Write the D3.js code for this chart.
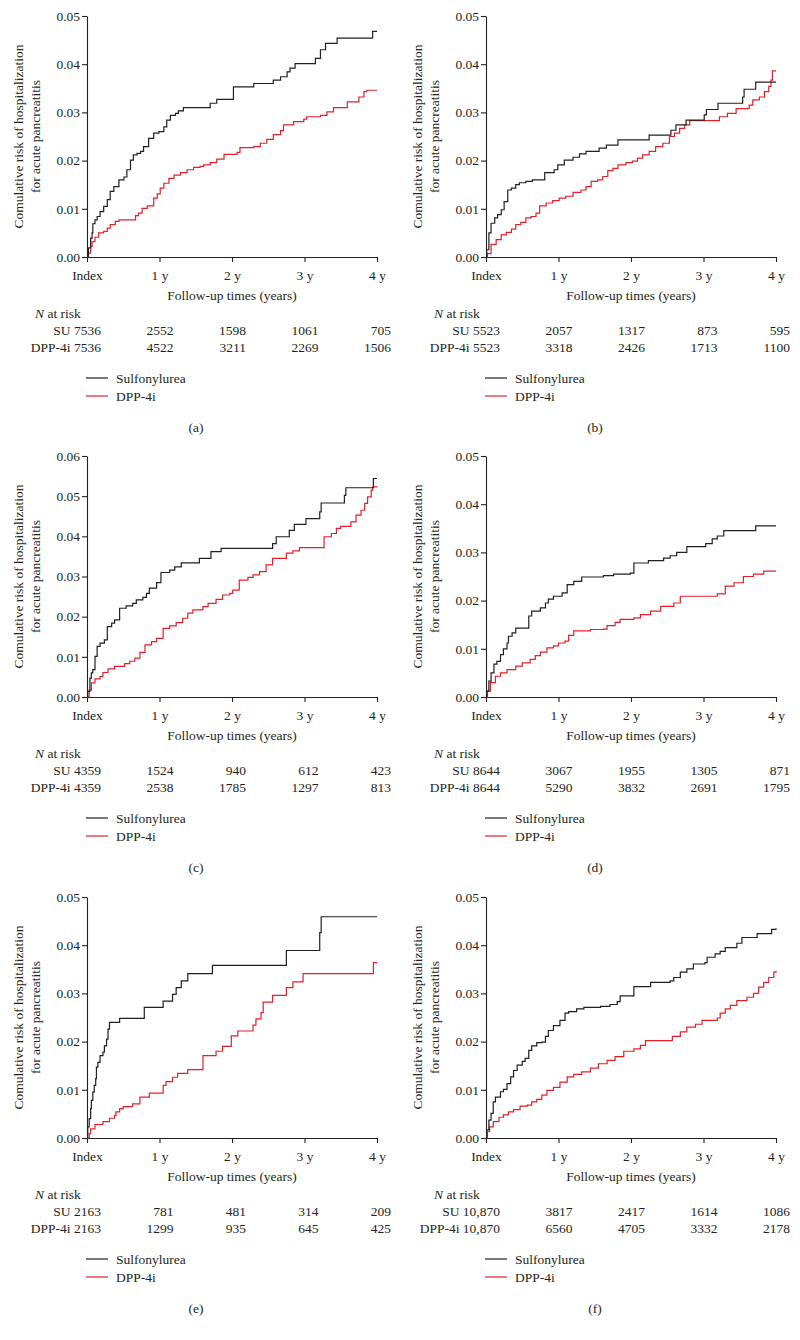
<!DOCTYPE html>
<html><head><meta charset="utf-8">
<script src="https://cdn.jsdelivr.net/npm/d3@7"></script>
<style>
body{margin:0;background:#fff;}
svg text{font-family:"Liberation Serif","Times New Roman",serif;fill:#231f20;font-size:13.5px;}
</style></head><body><svg id="c" width="800" height="1340"></svg>
<script>
// ---------- data ----------
const panelLabels = ["(a)", "(b)", "(c)", "(d)", "(e)", "(f)"];
const yMaxes = [0.05, 0.05, 0.06, 0.05, 0.05, 0.05];
const xTickLabels = ["Index", "1 y", "2 y", "3 y", "4 y"];
const xTickValues = [0, 1, 2, 3, 4];
const seriesNames = ["Sulfonylurea", "DPP-4i"];
const yTitle = ["Comulative risk of hospitalization", "for acute pancreatitis"];
const xTitle = "Follow-up times (years)";

// [years, cumulative risk]
const suA = [[0,0],[0.02,0.0019],[0.05,0.0039],[0.07,0.005],[0.08,0.0069],[0.11,0.0077],[0.14,0.0084],[0.18,0.0094],[0.23,0.0105],[0.28,0.0119],[0.32,0.0136],[0.37,0.0146],[0.44,0.016],[0.51,0.0166],[0.55,0.0181],[0.60,0.0201],[0.64,0.0212],[0.69,0.0215],[0.74,0.0219],[0.78,0.0229],[0.85,0.0246],[0.92,0.0257],[0.99,0.026],[1.06,0.027],[1.10,0.0284],[1.15,0.0294],[1.22,0.0298],[1.26,0.0303],[1.33,0.031],[1.70,0.0319],[1.79,0.0327],[2.02,0.0353],[2.30,0.036],[2.57,0.0367],[2.67,0.0374],[2.76,0.0384],[2.80,0.0392],[2.87,0.0401],[3.15,0.0412],[3.22,0.043],[3.29,0.0443],[3.45,0.0454],[3.94,0.0468],[4.0,0.0468]];
const dppA = [[0,0],[0.02,0.0008],[0.05,0.0022],[0.07,0.0032],[0.11,0.0041],[0.16,0.005],[0.23,0.0053],[0.28,0.006],[0.32,0.0067],[0.39,0.0074],[0.44,0.0077],[0.67,0.0086],[0.71,0.0091],[0.76,0.0101],[0.83,0.0106],[0.92,0.0122],[0.97,0.0131],[1.01,0.0143],[1.06,0.0153],[1.13,0.0163],[1.20,0.017],[1.29,0.0175],[1.38,0.0181],[1.47,0.0186],[1.56,0.0188],[1.61,0.0191],[1.70,0.0196],[1.79,0.0203],[1.89,0.0213],[2.07,0.0217],[2.11,0.0227],[2.30,0.0229],[2.39,0.0236],[2.48,0.0244],[2.57,0.0254],[2.67,0.0262],[2.71,0.0274],[2.85,0.0281],[2.99,0.0286],[3.03,0.0291],[3.22,0.0294],[3.31,0.0301],[3.40,0.031],[3.59,0.0322],[3.75,0.0332],[3.82,0.0343],[3.86,0.0346],[4.0,0.0346]];
const suB = [[0,0],[0.01,0.0015],[0.04,0.005],[0.07,0.007],[0.12,0.0081],[0.16,0.0088],[0.21,0.0098],[0.25,0.0115],[0.30,0.0139],[0.35,0.0143],[0.41,0.015],[0.46,0.0154],[0.55,0.0157],[0.64,0.016],[0.81,0.0175],[0.94,0.0181],[0.99,0.0191],[1.08,0.0201],[1.20,0.0207],[1.29,0.0214],[1.38,0.0219],[1.56,0.0226],[1.66,0.0232],[1.82,0.0243],[2.25,0.0253],[2.55,0.0263],[2.62,0.0274],[2.76,0.0284],[3.01,0.0295],[3.04,0.0306],[3.20,0.0319],[3.54,0.0332],[3.56,0.0348],[3.72,0.0363],[4.0,0.0363]];
const dppB = [[0,0],[0.02,0.0007],[0.07,0.0026],[0.14,0.0036],[0.21,0.0046],[0.28,0.0051],[0.35,0.0058],[0.41,0.0067],[0.48,0.0072],[0.55,0.0081],[0.62,0.0084],[0.69,0.0091],[0.74,0.0106],[0.83,0.0112],[0.92,0.0117],[1.01,0.0122],[1.10,0.0126],[1.20,0.0134],[1.31,0.0139],[1.38,0.0146],[1.45,0.0157],[1.54,0.016],[1.61,0.0167],[1.68,0.0179],[1.75,0.0184],[1.82,0.0191],[1.93,0.0196],[2.02,0.0199],[2.09,0.0205],[2.16,0.0212],[2.25,0.0219],[2.34,0.0229],[2.44,0.0236],[2.53,0.025],[2.60,0.0257],[2.67,0.0267],[2.74,0.0274],[2.81,0.0283],[3.22,0.0291],[3.33,0.0298],[3.45,0.0308],[3.63,0.0315],[3.68,0.0326],[3.77,0.0332],[3.84,0.0343],[3.90,0.0354],[3.93,0.0367],[3.95,0.0386],[4.0,0.0386]];
const suC = [[0,0],[0.01,0.0014],[0.04,0.0047],[0.06,0.006],[0.08,0.0068],[0.11,0.0101],[0.14,0.0126],[0.18,0.0134],[0.24,0.0142],[0.28,0.0175],[0.34,0.0184],[0.38,0.0192],[0.45,0.0221],[0.54,0.0227],[0.63,0.0233],[0.68,0.0242],[0.77,0.0248],[0.82,0.0258],[0.86,0.0271],[0.96,0.0285],[1.02,0.031],[1.14,0.0316],[1.21,0.0324],[1.30,0.0334],[1.55,0.0345],[1.71,0.0362],[1.85,0.037],[2.56,0.0382],[2.61,0.0399],[2.79,0.0415],[2.86,0.043],[3.02,0.0444],[3.21,0.0461],[3.23,0.0483],[3.55,0.0502],[3.57,0.0521],[3.95,0.0544],[4.0,0.0544]];
const dppC = [[0,0],[0.03,0.0017],[0.06,0.0035],[0.11,0.0045],[0.18,0.0051],[0.22,0.0061],[0.29,0.007],[0.38,0.0076],[0.52,0.0083],[0.59,0.0089],[0.66,0.0097],[0.73,0.0111],[0.80,0.013],[0.89,0.0138],[0.96,0.0146],[1.05,0.0171],[1.14,0.0177],[1.23,0.0185],[1.32,0.0196],[1.39,0.0209],[1.46,0.0217],[1.60,0.0225],[1.67,0.0233],[1.78,0.0243],[1.87,0.0254],[1.97,0.0258],[2.01,0.0266],[2.10,0.0291],[2.22,0.0298],[2.29,0.0304],[2.38,0.0312],[2.47,0.0329],[2.56,0.0345],[2.75,0.0358],[2.84,0.0364],[2.93,0.0372],[3.27,0.0399],[3.37,0.0407],[3.44,0.042],[3.50,0.0425],[3.64,0.0436],[3.71,0.0453],[3.78,0.0465],[3.83,0.0482],[3.87,0.0498],[3.92,0.0515],[3.94,0.0523],[4.0,0.0525]];
const suD = [[0,0],[0.01,0.0012],[0.04,0.0033],[0.07,0.005],[0.11,0.0068],[0.15,0.0074],[0.20,0.0088],[0.24,0.01],[0.29,0.0112],[0.31,0.0126],[0.36,0.0133],[0.41,0.0143],[0.59,0.0168],[0.63,0.0178],[0.75,0.0185],[0.82,0.0195],[0.86,0.0203],[0.93,0.0209],[1.05,0.0216],[1.12,0.0233],[1.21,0.024],[1.32,0.0249],[1.62,0.0252],[1.76,0.0255],[1.99,0.0257],[2.04,0.0278],[2.24,0.0283],[2.45,0.0288],[2.54,0.0293],[2.63,0.03],[2.77,0.0312],[3.03,0.0318],[3.12,0.0328],[3.19,0.0334],[3.28,0.0345],[3.72,0.0355],[4.0,0.0355]];
const dppD = [[0,0],[0.02,0.0012],[0.06,0.003],[0.13,0.0043],[0.20,0.005],[0.29,0.0057],[0.41,0.0064],[0.50,0.0071],[0.61,0.0078],[0.68,0.0086],[0.75,0.0093],[0.84,0.0102],[0.93,0.0106],[1.00,0.0112],[1.09,0.0116],[1.14,0.0128],[1.21,0.0137],[1.44,0.014],[1.62,0.0141],[1.67,0.0148],[1.78,0.0155],[1.85,0.0161],[2.04,0.0164],[2.13,0.0171],[2.27,0.0178],[2.41,0.0188],[2.59,0.0195],[2.68,0.0209],[3.19,0.0214],[3.30,0.023],[3.42,0.0237],[3.55,0.025],[3.69,0.0255],[3.83,0.0261],[4.0,0.0261]];
const suE = [[0,0],[0.01,0.0023],[0.03,0.004],[0.05,0.0061],[0.06,0.0078],[0.08,0.0095],[0.10,0.0109],[0.12,0.0123],[0.13,0.0147],[0.15,0.0157],[0.18,0.0171],[0.22,0.0178],[0.24,0.0191],[0.27,0.0205],[0.29,0.0226],[0.31,0.024],[0.45,0.0248],[0.79,0.0271],[1.05,0.0284],[1.18,0.0298],[1.23,0.0312],[1.30,0.0326],[1.39,0.0341],[1.73,0.0358],[2.75,0.0389],[3.21,0.0426],[3.23,0.0459],[4.0,0.0459]];
const dppE = [[0,0],[0.03,0.0009],[0.05,0.0019],[0.11,0.0028],[0.22,0.0034],[0.31,0.0041],[0.38,0.0047],[0.40,0.0054],[0.45,0.0061],[0.50,0.0065],[0.63,0.0071],[0.73,0.0085],[0.86,0.0093],[1.05,0.0109],[1.09,0.0117],[1.18,0.0126],[1.25,0.0134],[1.39,0.0142],[1.60,0.0171],[1.78,0.018],[1.87,0.019],[1.99,0.0212],[2.08,0.0222],[2.29,0.0234],[2.33,0.0247],[2.40,0.026],[2.43,0.0282],[2.56,0.0296],[2.75,0.0312],[2.84,0.0324],[2.98,0.0341],[3.95,0.0364],[4.0,0.0364]];
const suF = [[0,0],[0.01,0.0017],[0.04,0.0037],[0.07,0.0051],[0.10,0.0075],[0.13,0.0085],[0.20,0.0096],[0.24,0.0101],[0.29,0.0113],[0.34,0.0127],[0.38,0.014],[0.43,0.0151],[0.50,0.0159],[0.54,0.0165],[0.59,0.0182],[0.63,0.0191],[0.70,0.0198],[0.77,0.0199],[0.82,0.0211],[0.86,0.0223],[0.93,0.0233],[1.02,0.0244],[1.09,0.0259],[1.14,0.0262],[1.25,0.0268],[1.35,0.0271],[1.58,0.0273],[1.71,0.0277],[1.81,0.0283],[1.85,0.0295],[2.04,0.0314],[2.27,0.0323],[2.54,0.0326],[2.59,0.0333],[2.68,0.0344],[2.77,0.0351],[2.86,0.0361],[3.02,0.0364],[3.05,0.0375],[3.16,0.0382],[3.23,0.0387],[3.30,0.0395],[3.46,0.0404],[3.53,0.0416],[3.74,0.0424],[3.94,0.0433],[4.0,0.0435]];
const dppF = [[0,0],[0.02,0.0013],[0.05,0.0023],[0.10,0.0034],[0.18,0.0043],[0.24,0.0048],[0.31,0.0054],[0.38,0.0059],[0.47,0.0066],[0.57,0.0068],[0.63,0.0075],[0.70,0.008],[0.77,0.0089],[0.84,0.0099],[0.93,0.0105],[1.02,0.0116],[1.12,0.0127],[1.21,0.0132],[1.32,0.0137],[1.44,0.0145],[1.55,0.0154],[1.67,0.0161],[1.78,0.0169],[1.90,0.018],[2.04,0.0185],[2.13,0.0192],[2.20,0.0202],[2.57,0.0211],[2.68,0.022],[2.77,0.023],[2.89,0.0236],[2.98,0.0244],[3.19,0.0249],[3.23,0.0259],[3.30,0.0268],[3.37,0.0275],[3.46,0.0285],[3.60,0.0292],[3.69,0.03],[3.76,0.0313],[3.83,0.0323],[3.90,0.0333],[3.97,0.0344],[4.0,0.0347]];

const suRisk = [
  ["SU 7536", "2552", "1598", "1061", "705"],
  ["SU 5523", "2057", "1317", "873", "595"],
  ["SU 4359", "1524", "940", "612", "423"],
  ["SU 8644", "3067", "1955", "1305", "871"],
  ["SU 2163", "781", "481", "314", "209"],
  ["SU 10,870", "3817", "2417", "1614", "1086"]
];
const dppRisk = [
  ["DPP-4i 7536", "4522", "3211", "2269", "1506"],
  ["DPP-4i 5523", "3318", "2426", "1713", "1100"],
  ["DPP-4i 4359", "2538", "1785", "1297", "813"],
  ["DPP-4i 8644", "5290", "3832", "2691", "1795"],
  ["DPP-4i 2163", "1299", "935", "645", "425"],
  ["DPP-4i 10,870", "6560", "4705", "3332", "2178"]
];
const suSeries = [suA, suB, suC, suD, suE, suF];
const dppSeries = [dppA, dppB, dppC, dppD, dppE, dppF];

// ---------- layout ----------
const colX = [87, 486];
const rowY = [16, 456, 897];
const W = 290, H = 241;
const SU_COLOR = "#231f20", DPP_COLOR = "#e3202a";

const svg = d3.select("#c");
svg.append("rect").attr("width", 800).attr("height", 1340).attr("fill", "#fff");

panelLabels.forEach((lab, i) => {
  const g = svg.append("g").attr("transform", `translate(${colX[i % 2]},${rowY[Math.floor(i / 2)]})`);
  const x = d3.scaleLinear().domain([0, 4]).range([0, W]);
  const y = d3.scaleLinear().domain([0, yMaxes[i]]).range([H, 0]);

  const yAxis = d3.axisLeft(y)
    .tickValues(d3.range(0, yMaxes[i] + 1e-9, 0.01))
    .tickFormat(d3.format(".2f")).tickSize(5).tickSizeOuter(0).tickPadding(2);
  const xAxis = d3.axisBottom(x)
    .tickValues(xTickValues).tickFormat((d, k) => xTickLabels[k])
    .tickSize(5).tickSizeOuter(0).tickPadding(8);

  const ya = g.append("g").call(yAxis);
  const xa = g.append("g").attr("transform", `translate(0,${H})`).call(xAxis);
  [ya, xa].forEach(a => {
    a.selectAll("text").attr("font-family", null).attr("font-size", null).attr("fill", "#231f20");
    a.selectAll("path,line").attr("stroke", "#231f20").attr("stroke-width", 1.1);
  });

  // y title
  yTitle.forEach((t, k) => {
    g.append("text").attr("transform", `translate(${k === 0 ? -64 : -47},${H / 2}) rotate(-90)`)
      .attr("text-anchor", "middle").text(t);
  });

  const line = d3.line().x(d => x(d[0])).y(d => y(d[1])).curve(d3.curveStepAfter);
  g.append("path").datum(dppSeries[i]).attr("d", line)
    .attr("fill", "none").attr("stroke", DPP_COLOR).attr("stroke-width", 1.2);
  g.append("path").datum(suSeries[i]).attr("d", line)
    .attr("fill", "none").attr("stroke", SU_COLOR).attr("stroke-width", 1.2);

  // x title
  g.append("text").attr("x", W / 2).attr("y", H + 42.5).attr("text-anchor", "middle").text(xTitle);

  // N at risk
  const nr = g.append("text").attr("x", -52).attr("y", H + 60.5);
  nr.append("tspan").attr("font-style", "italic").text("N");
  nr.append("tspan").text(" at risk");

  [suRisk[i], dppRisk[i]].forEach((row, r) => {
    const yy = H + 78 + r * 16.5;
    g.append("text").attr("x", 14).attr("y", yy).attr("text-anchor", "end").text(row[0]);
    row.slice(1).forEach((v, k) => {
      g.append("text").attr("x", x(xTickValues[k + 1]) + 14).attr("y", yy)
        .attr("text-anchor", "end").text(v);
    });
  });

  // legend
  [SU_COLOR, DPP_COLOR].forEach((c, k) => {
    const yy = H + 121 + k * 18;
    g.append("line").attr("x1", -1).attr("x2", 21).attr("y1", yy).attr("y2", yy)
      .attr("stroke", c).attr("stroke-width", 1.2);
    g.append("text").attr("x", 29).attr("y", yy + 4.5).text(seriesNames[k]);
  });

  // caption
  g.append("text").attr("x", 109).attr("y", H + 174.5).attr("text-anchor", "middle").text(lab);
});
</script></body></html>
